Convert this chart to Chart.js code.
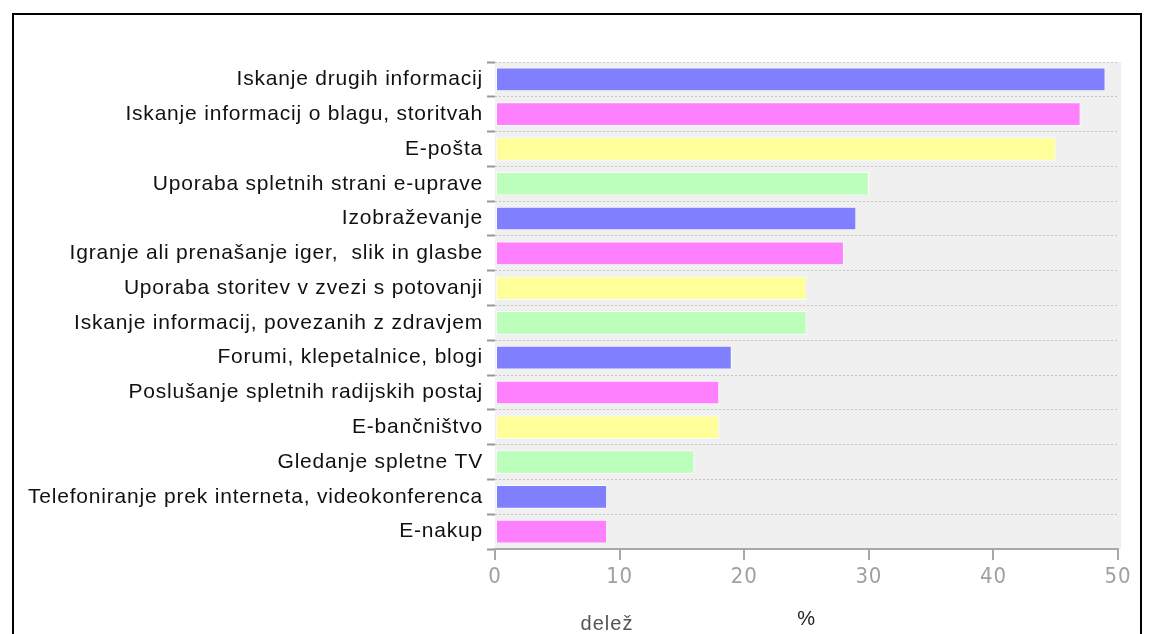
<!DOCTYPE html>
<html><head><meta charset="utf-8">
<script src="https://cdn.jsdelivr.net/npm/chart.js@4"></script>
<style>
html,body{margin:0;padding:0;background:#fff;overflow:hidden;}
#frame{position:absolute;left:12px;top:13px;width:1126px;height:660px;border:2px solid #000;background:#fff;}
#c{display:block;}
</style></head><body>
<div id="frame"><canvas id="c" width="1126" height="660"></canvas></div>
<script>
const categories = [
  "Iskanje drugih informacij",
  "Iskanje informacij o blagu, storitvah",
  "E-pošta",
  "Uporaba spletnih strani e-uprave",
  "Izobraževanje",
  "Igranje ali prenašanje iger,  slik in glasbe",
  "Uporaba storitev v zvezi s potovanji",
  "Iskanje informacij, povezanih z zdravjem",
  "Forumi, klepetalnice, blogi",
  "Poslušanje spletnih radijskih postaj",
  "E-bančništvo",
  "Gledanje spletne TV",
  "Telefoniranje prek interneta, videokonferenca",
  "E-nakup"
];
const values = [49, 47, 45, 30, 29, 28, 25, 25, 19, 18, 18, 16, 9, 9];
const palette = ["#8080ff", "#ff80ff", "#ffff99", "#bbffbb"];
const xTicks = [0, 10, 20, 30, 40, 50];
const axisTitle = "%";
const sideLabel = "delež";

const colors = values.map((v, i) => palette[i % palette.length]);

const bgPlugin = {
  id: 'bg',
  beforeDraw(chart) {
    const {ctx, chartArea: a} = chart;
    ctx.fillStyle = '#f0f0f0';
    ctx.fillRect(a.left, a.top, a.right - a.left + 3, a.bottom - a.top);
    ctx.letterSpacing = '0.8px';
  },
  afterDraw(chart) {
    const {ctx, chartArea: a} = chart;
    ctx.save();
    ctx.letterSpacing = '1px';
    ctx.fillStyle = '#555';
    ctx.font = '20px "Liberation Sans"';
    ctx.textAlign = 'center';
    ctx.textBaseline = 'alphabetic';
    ctx.fillText(sideLabel, a.left + 112, 615);
    ctx.restore();
    ctx.letterSpacing = '0px';
  }
};

new Chart(document.getElementById('c'), {
  type: 'bar',
  data: {
    labels: categories,
    datasets: [{
      data: values,
      backgroundColor: colors,
      borderColor: 'rgba(255,255,255,0.7)',
      borderWidth: 1,
      borderSkipped: false,
      barPercentage: 0.68,
      categoryPercentage: 1
    }]
  },
  options: {
    indexAxis: 'y',
    responsive: false,
    animation: false,
    layout: { padding: { top: 47, right: 22, left: 0, bottom: 0 } },
    plugins: { legend: { display: false }, tooltip: { enabled: false } },
    scales: {
      x: {
        min: 0, max: 50,
        afterFit(s) { s.height = 660 - 534; },
        afterBuildTicks(s) { s.ticks = xTicks.map(v => ({ value: v })); },
        border: { color: '#a8a8a8', width: 2 },
        grid: { drawOnChartArea: false, drawTicks: true, tickLength: 11, color: '#a8a8a8', lineWidth: 2 },
        ticks: { color: '#a0a0a0', font: { family: '"DejaVu Sans Condensed", "Liberation Sans"', size: 22 }, padding: 4 },
        title: { display: true, text: axisTitle, color: '#222', font: { family: 'Liberation Sans', size: 20 }, padding: { top: 0, bottom: 44 } }
      },
      y: {
        afterFit(s) { s.width = 481; },
        border: { display: false, dash: [2, 2] },
        grid: { offset: true, color: '#c4c4c4', lineWidth: 1, drawTicks: true, tickLength: 8, tickColor: '#999', tickWidth: 2, tickBorderDash: [] },
        ticks: { color: '#111', font: { family: 'Liberation Sans', size: 21 }, padding: 4 }
      }
    }
  },
  plugins: [bgPlugin]
});
</script>
</body></html>
